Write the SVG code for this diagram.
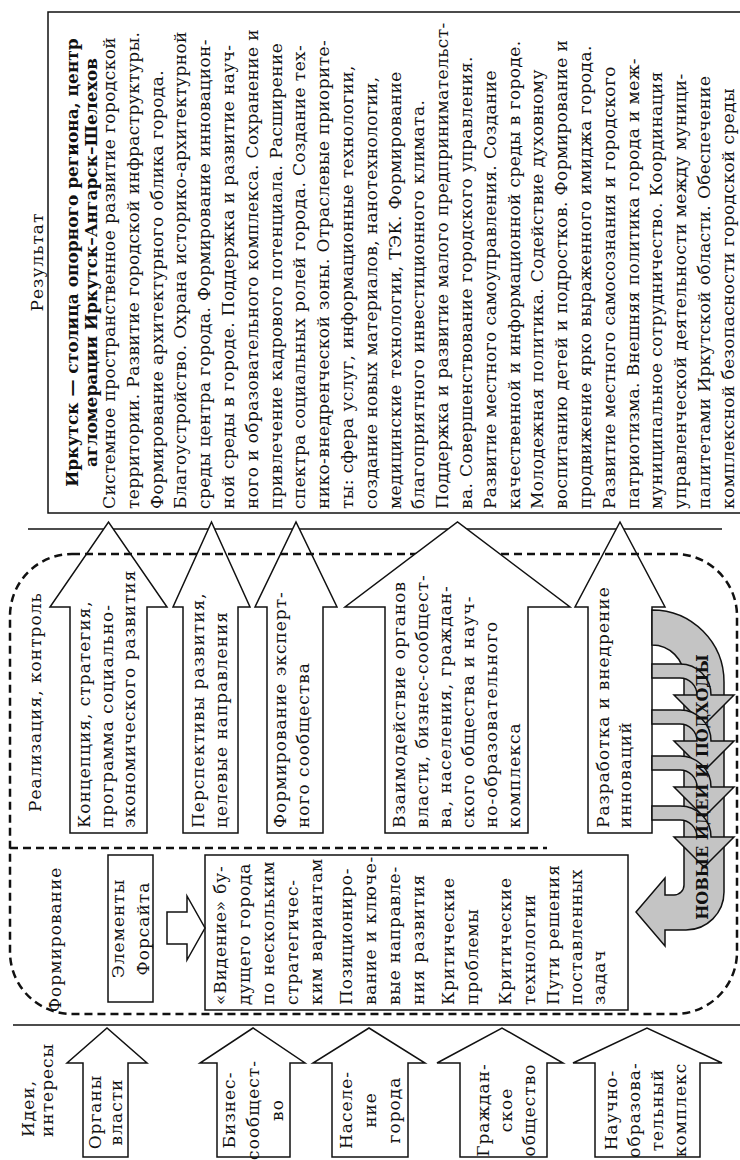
<svg xmlns="http://www.w3.org/2000/svg" width="740" height="1160" viewBox="0 0 740 1160">
<style>
text { font-family: "DejaVu Serif", "Liberation Serif", serif; font-size: 17px; fill: #111; letter-spacing: 1px; }
.b { font-weight: bold; letter-spacing: 0; }
.mid { text-anchor: middle; }
.rt { letter-spacing: 0.4px; }
.vt { letter-spacing: 0.8px; }
.ln { stroke: #111; stroke-width: 1.5; fill: none; }
.box { fill: #fff; stroke: #111; stroke-width: 1.5; }
.arr { fill: #fff; stroke: #111; stroke-width: 1.5; stroke-linejoin: miter; }
.dash { fill: none; stroke: #111; stroke-width: 2.5; stroke-dasharray: 8 5; }
.grey { fill: #c4c4c4; stroke: #111; stroke-width: 1.5; stroke-linejoin: miter; }
</style>
<rect width="740" height="1160" fill="#fff"/>

<g id="separators">
  <line class="ln" x1="28" y1="529" x2="722" y2="529"/>
  <line class="ln" x1="13" y1="1025" x2="740" y2="1025"/>
</g>

<g id="labels">
  <text class="mid" transform="translate(43 262) rotate(-90)">Результат</text>
  <text transform="translate(41 812) rotate(-90)">Реализация, контроль</text>
  <text transform="translate(61 1012) rotate(-90)">Формирование</text>
  <text transform="translate(34 1137) rotate(-90)"><tspan x="0" y="0">Идеи,</tspan><tspan x="0" y="19">интересы</tspan></text>
</g>

<g id="arrow-koncepciya">
  <polygon class="arr" points="70,833 70,607 50,607 108.5,522 167,607 147,607 147,833"/>
  <text transform="translate(90 828) rotate(-90)"><tspan x="0" y="0">Концепция, стратегия,</tspan><tspan x="0" y="22.5">программа социально-</tspan><tspan x="0" y="45">экономического развития</tspan></text>
</g>
<g id="arrow-perspektivy">
  <polygon class="arr" points="183,833 183,607 173,607 211.5,522 250,607 238,607 238,833"/>
  <text transform="translate(204 828) rotate(-90)"><tspan x="0" y="0">Перспективы развития,</tspan><tspan x="0" y="22.5">целевые направления</tspan></text>
</g>
<g id="arrow-ekspert">
  <polygon class="arr" points="267,833 267,607 255,607 296,522 337,607 323,607 323,833"/>
  <text transform="translate(286 828) rotate(-90)"><tspan x="0" y="0">Формирование эксперт-</tspan><tspan x="0" y="22.5">ного сообщества</tspan></text>
</g>
<g id="arrow-razrabotka">
  <polygon class="arr" points="588,833 588,607 575,607 620,522 665,607 652,607 652,833"/>
  <text transform="translate(609 828) rotate(-90)"><tspan x="0" y="0">Разработка и внедрение</tspan><tspan x="0" y="22">инноваций</tspan></text>
</g>

<g id="input-organy">
  <polygon class="arr" points="83,1157 83,1063 67,1063 107,1028 147,1063 128,1063 128,1157"/>
  <text class="mid" transform="translate(101 1112) rotate(-90)"><tspan x="0" y="0">Органы</tspan><tspan x="0" y="21">власти</tspan></text>
</g>
<g id="input-biznes">
  <polygon class="arr" points="217,1157 217,1063 200,1063 253,1028 305,1063 290,1063 290,1157"/>
  <text class="mid" transform="translate(235 1110) rotate(-90)"><tspan x="0" y="0">Бизнес-</tspan><tspan x="0" y="24">сообщест-</tspan><tspan x="0" y="48">во</tspan></text>
</g>
<g id="input-naselenie">
  <polygon class="arr" points="332,1157 332,1063 313,1063 369,1028 425,1063 408,1063 408,1157"/>
  <text class="mid" transform="translate(352 1110) rotate(-90)"><tspan x="0" y="0">Населе-</tspan><tspan x="0" y="24">ние</tspan><tspan x="0" y="48">города</tspan></text>
</g>
<g id="input-grazhdanskoe">
  <polygon class="arr" points="460,1157 460,1063 437,1063 502,1028 563,1063 547,1063 547,1157"/>
  <text class="mid" transform="translate(489 1110) rotate(-90)"><tspan x="0" y="0">Граждан-</tspan><tspan x="0" y="23">ское</tspan><tspan x="0" y="46">общество</tspan></text>
</g>
<g id="input-nauchno">
  <polygon class="arr" points="595,1157 595,1063 573,1063 647,1028 722,1063 700,1063 700,1157"/>
  <text class="mid" transform="translate(617 1110) rotate(-90)"><tspan x="0" y="0">Научно-</tspan><tspan x="0" y="23">образова-</tspan><tspan x="0" y="46">тельный</tspan><tspan x="0" y="69">комплекс</tspan></text>
</g>

<g id="result">
  <rect class="box" x="48" y="12" width="700" height="501"/>
  <text class="b mid" transform="translate(78 262.5) rotate(-90)"><tspan x="0" y="0">Иркутск — столица опорного региона, центр</tspan><tspan x="0" y="19">агломерации Иркутск–Ангарск–Шелехов</tspan></text>
  <text class="rt" transform="translate(115 509) rotate(-90)"><tspan x="0" y="0">Системное пространственное развитие городской</tspan><tspan x="0" y="23.8">территории. Развитие городской инфраструктуры.</tspan><tspan x="0" y="47.6">Формирование архитектурного облика города.</tspan><tspan x="0" y="71.4">Благоустройство. Охрана историко-архитектурной</tspan><tspan x="0" y="95.2">среды центра города. Формирование инновацион-</tspan><tspan x="0" y="119">ной среды в городе. Поддержка и развитие науч-</tspan><tspan x="0" y="142.8">ного и образовательного комплекса. Сохранение и</tspan><tspan x="0" y="166.6">привлечение кадрового потенциала. Расширение</tspan><tspan x="0" y="190.4">спектра социальных ролей города. Создание тех-</tspan><tspan x="0" y="214.2">нико-внедренческой зоны. Отраслевые приорите-</tspan><tspan x="0" y="238">ты: сфера услуг, информационные технологии,</tspan><tspan x="0" y="261.8">создание новых материалов, нанотехнологии,</tspan><tspan x="0" y="285.6">медицинские технологии, ТЭК. Формирование</tspan><tspan x="0" y="309.4">благоприятного инвестиционного климата.</tspan><tspan x="0" y="333.2">Поддержка и развитие малого предпринимательст-</tspan><tspan x="0" y="357">ва. Совершенствование городского управления.</tspan><tspan x="0" y="380.8">Развитие местного самоуправления. Создание</tspan><tspan x="0" y="404.6">качественной и информационной среды в городе.</tspan><tspan x="0" y="428.4">Молодежная политика. Содействие духовному</tspan><tspan x="0" y="452.2">воспитанию детей и подростков. Формирование и</tspan><tspan x="0" y="476">продвижение ярко выраженного имиджа города.</tspan><tspan x="0" y="499.8">Развитие местного самосознания и городского</tspan><tspan x="0" y="523.6">патриотизма. Внешняя политика города и меж-</tspan><tspan x="0" y="547.4">муниципальное сотрудничество. Координация</tspan><tspan x="0" y="571.2">управленческой деятельности между муници-</tspan><tspan x="0" y="595">палитетами Иркутской области. Обеспечение</tspan><tspan x="0" y="618.8">комплексной безопасности городской среды</tspan></text>
</g>

<g id="forsait">
  <rect class="box" x="108" y="855" width="45" height="147"/>
  <text class="mid" transform="translate(124 928.5) rotate(-90)"><tspan x="0" y="0">Элементы</tspan><tspan x="0" y="25">Форсайта</tspan></text>
</g>

<g id="videnie">
  <rect class="box" x="205" y="855" width="423" height="155"/>
  <text class="vt" transform="translate(226 1005) rotate(-90)"><tspan x="0" y="0">«Видение» бу-</tspan><tspan x="0" y="24">дущего города</tspan><tspan x="0" y="48">по нескольким</tspan><tspan x="0" y="72">стратегичес-</tspan><tspan x="0" y="96">ким вариантам</tspan><tspan x="0" y="126">Позициониро-</tspan><tspan x="0" y="150">вание и ключе-</tspan><tspan x="0" y="174">вые направле-</tspan><tspan x="0" y="198">ния развития</tspan><tspan x="0" y="228">Критические</tspan><tspan x="0" y="252">проблемы</tspan><tspan x="0" y="285">Критические</tspan><tspan x="0" y="309">технологии</tspan><tspan x="0" y="333">Пути решения</tspan><tspan x="0" y="356">поставленных</tspan><tspan x="0" y="379">задач</tspan></text>
</g>

<g id="zones">
  <rect class="dash" x="10" y="554" width="727" height="460" rx="62"/>
  <line class="dash" x1="10" y1="848" x2="547" y2="848"/>
</g>

<g id="arrow-vzaimodeistvie">
  <polygon class="arr" points="385,833 385,607 345,607 457.5,522 570,607 528,607 528,833"/>
  <text transform="translate(405 828) rotate(-90)"><tspan x="0" y="0">Взаимодействие органов</tspan><tspan x="0" y="23">власти, бизнес-сообщест-</tspan><tspan x="0" y="46">ва, населения, граждан-</tspan><tspan x="0" y="69">ского общества и науч-</tspan><tspan x="0" y="92">но-образовательного</tspan><tspan x="0" y="115">комплекса</tspan></text>
</g>

<g id="connectors">
  <polygon class="arr" points="167,912 187,912 187,896 205,928 187,960 187,944 167,944"/>
  <path class="grey" d="M652 610 A72 72 0 0 1 724 682 L724 892 A38 38 0 0 1 686 930 L665 930 L665 946 L636 912 L665 878 L665 895 L674 895 A10 10 0 0 0 684 885 L684 677 A32 32 0 0 0 652 645 Z"/>
  <path class="grey" d="M652 664 L680 664 A31 31 0 0 1 711 695 L734 695 L704 725 L674 695 L697 695 A17 17 0 0 0 680 678 L652 678 Z"/>
  <path class="grey" d="M652 710 L680 710 A31 31 0 0 1 711 741 L734 741 L704 771 L674 741 L697 741 A17 17 0 0 0 680 724 L652 724 Z"/>
  <path class="grey" d="M652 756 L680 756 A31 31 0 0 1 711 787 L734 787 L704 817 L674 787 L697 787 A17 17 0 0 0 680 770 L652 770 Z"/>
  <path class="grey" d="M652 806 L680 806 A31 31 0 0 1 711 837 L734 837 L704 867 L674 837 L697 837 A17 17 0 0 0 680 820 L652 820 Z"/>
  <text class="b mid" style="font-size:16px" transform="translate(708 787) rotate(-90)">НОВЫЕ ИДЕИ И ПОДХОДЫ</text>
</g>
</svg>
